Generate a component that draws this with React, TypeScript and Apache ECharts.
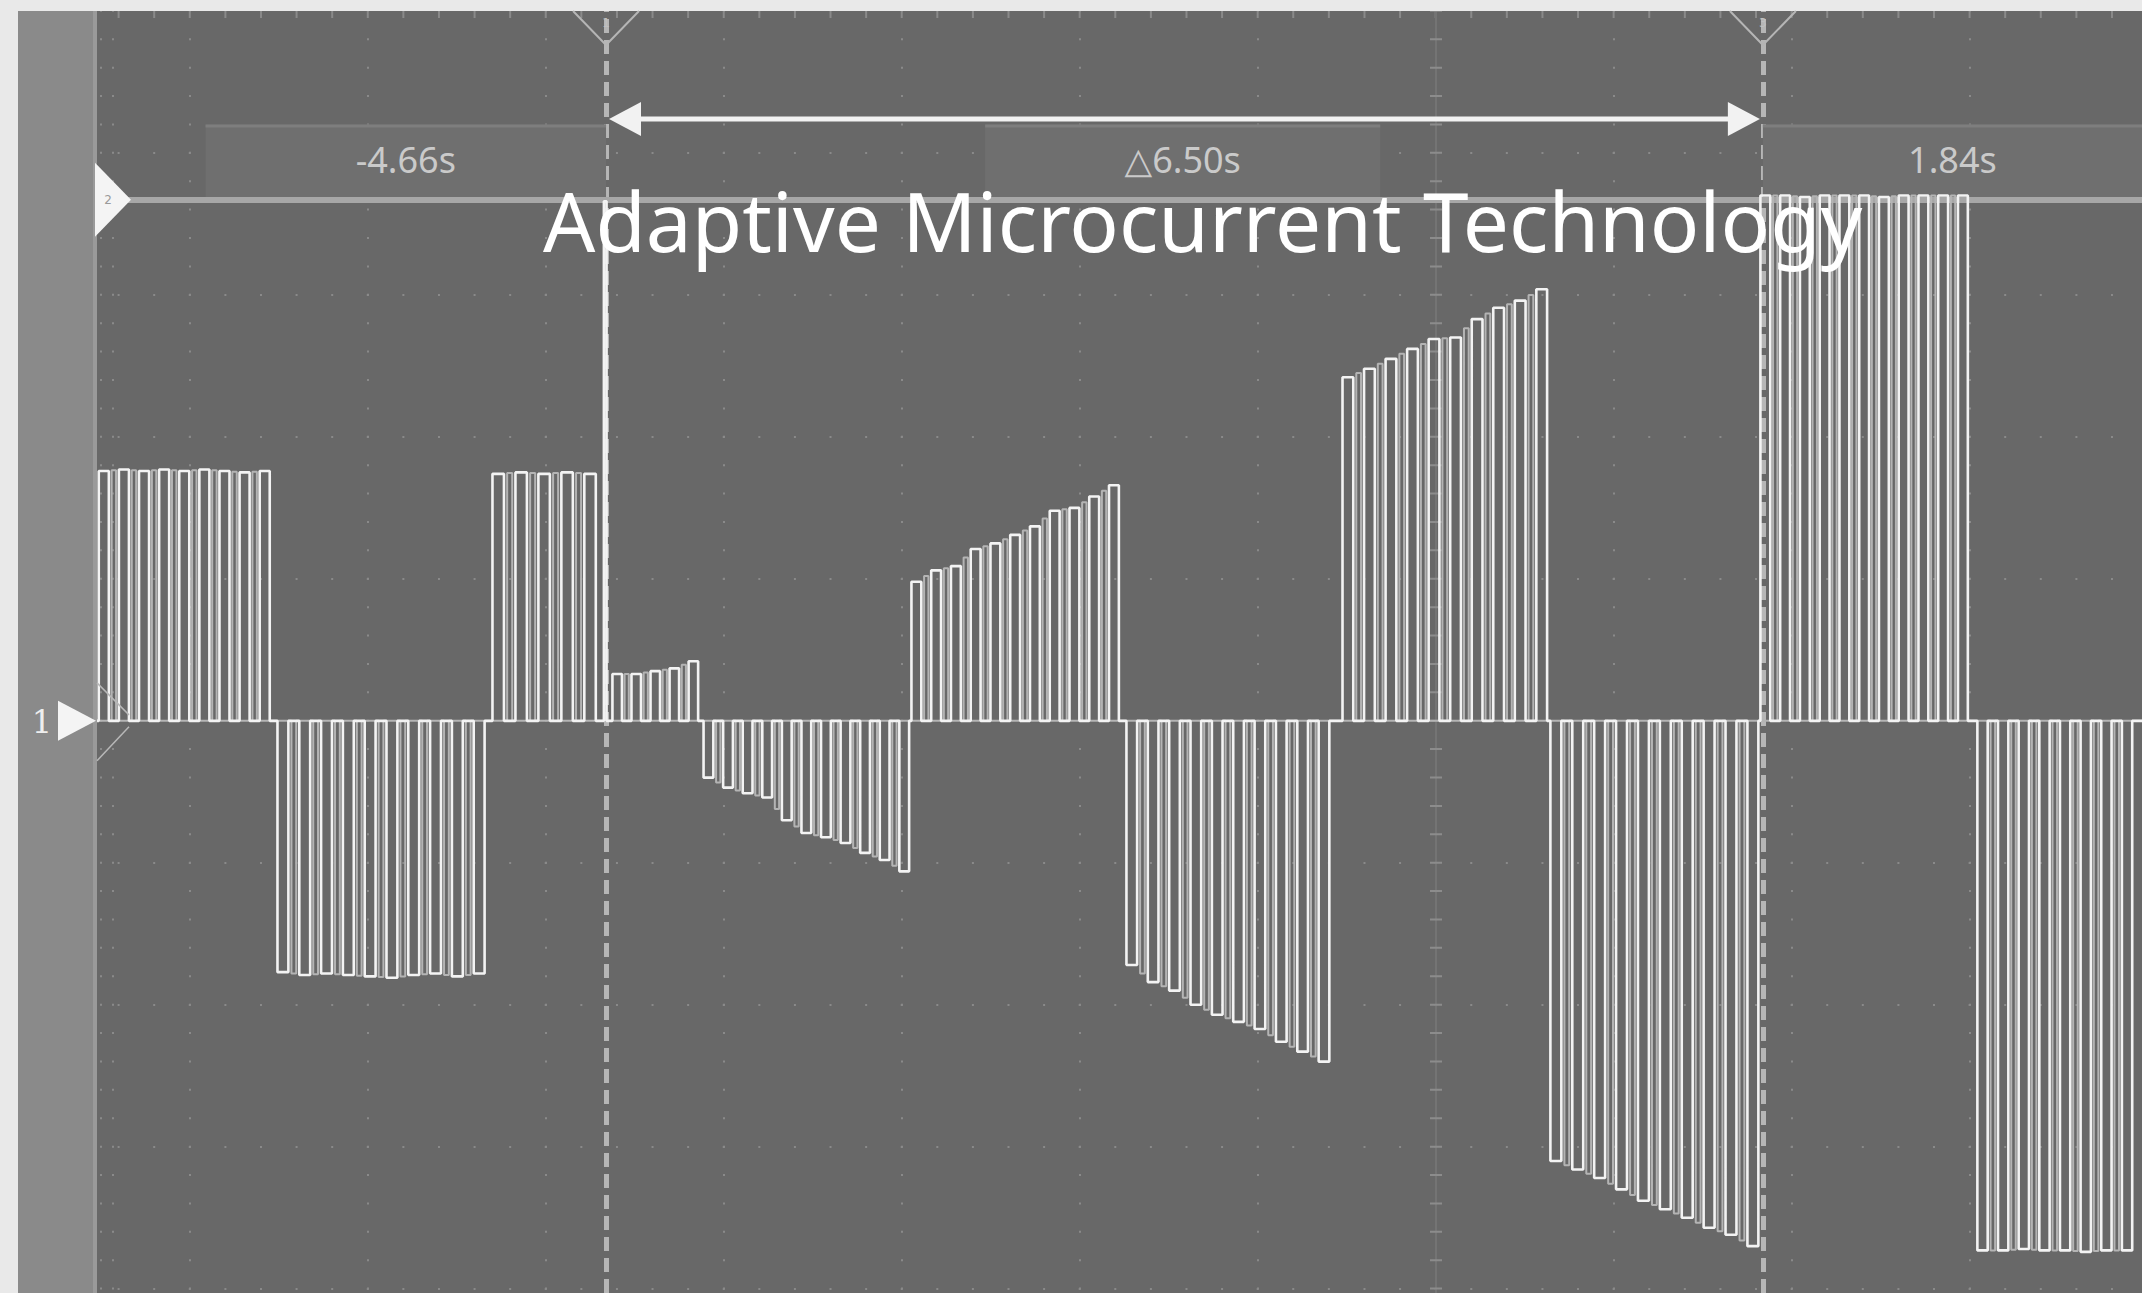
import React, { useEffect, useRef } from "react";
import * as echarts from "echarts";

// ---- axes (time in seconds, level in divisions) ----
const X_MIN = -7.52;
const X_MAX = 3.97;
const Y_MIN = -4.03;
const Y_MAX = 5;
const majorTimes = [-7, -6, -5, -4, -3, -2, -1, 1, 2, 3];
const centerTime = 0;
const majorLevels = [-4, -3, -2, -1, 1, 2, 3, 4];

// ---- cursors / readouts ----
const cursorTimes = [-4.66, 1.84];
const cursorNames = ["1", "3"];
const hCursorLevel = 3.67;
const readoutLabels = ["-4.66s", "\u25b36.50s", "1.84s"];
const readoutStarts = [-6.91, -2.53, 1.84];
const readoutEnds = [-4.66, -0.31, 3.97];
const readoutBand = [3.69, 4.2];
const arrowLevel = 4.24;
const titleText = "Adaptive Microcurrent Technology";

// ---- waveform bursts (pulse amplitudes, divisions) ----
const burst1 = [1.76, 1.77, 1.76, 1.77, 1.76, 1.77, 1.76, 1.75, 1.76];
const burst2 = [-1.77, -1.79, -1.78, -1.79, -1.8, -1.81, -1.79, -1.78, -1.8, -1.78];
const burst3 = [1.74, 1.75, 1.74, 1.75, 1.74];
const spike = [3.66];
const burst5 = [0.33, 0.33, 0.35, 0.37, 0.42];
const burst6 = [-0.4, -0.47, -0.51, -0.54, -0.7, -0.79, -0.82, -0.86, -0.93, -0.98, -1.06];
const burst7 = [0.98, 1.06, 1.09, 1.21, 1.25, 1.31, 1.37, 1.48, 1.5, 1.58, 1.66];
const burst8 = [-1.72, -1.84, -1.9, -2.0, -2.07, -2.12, -2.17, -2.26, -2.33, -2.4];
const burst9 = [2.42, 2.48, 2.55, 2.62, 2.69, 2.7, 2.83, 2.91, 2.96, 3.04];
const burst10 = [-3.1, -3.16, -3.22, -3.3, -3.38, -3.44, -3.5, -3.57, -3.62, -3.7];
const burst11 = [3.7, 3.7, 3.69, 3.7, 3.7, 3.7, 3.69, 3.7, 3.7, 3.7, 3.7];
const burst12 = [-3.73, -3.73, -3.72, -3.73, -3.73, -3.74, -3.73, -3.73];

const burstAmps = [burst1, burst2, burst3, spike, burst5, burst6, burst7, burst8, burst9, burst10, burst11, burst12];
const burstStarts = [-7.51, -6.506, -5.298, -4.672, -4.624, -4.112, -2.944, -1.736, -0.522, 0.646, 1.826, 3.045];
const burstPeriods = [0.113, 0.1225, 0.129, 0.03, 0.107, 0.11, 0.111, 0.12, 0.121, 0.123, 0.111, 0.116];
const DUTY = 0.5;
// persistence (display afterglow) lines sit inside the gaps between pulses
const GHOST_FROM = 0.64;
const GHOST_TO = 0.86;

function buildTrace() {
  const pts: number[][] = [[X_MIN, 0]];
  burstAmps.forEach((amps, b) => {
    amps.forEach((a, i) => {
      const t = burstStarts[b] + i * burstPeriods[b];
      const w = burstPeriods[b] * DUTY;
      pts.push([t, 0], [t, a], [t + w, a], [t + w, 0]);
    });
  });
  pts.push([X_MAX, 0]);
  return pts;
}

function buildGhost() {
  const pts: number[][] = [[X_MIN, 0]];
  burstAmps.forEach((amps, b) => {
    amps.forEach((a, i) => {
      if (i >= amps.length - 1) return;
      const p = burstPeriods[b];
      const t = burstStarts[b] + i * p;
      const a2 = (a + amps[i + 1]) / 2;
      pts.push([t + GHOST_FROM * p, 0], [t + GHOST_FROM * p, a2], [t + GHOST_TO * p, a2], [t + GHOST_TO * p, 0]);
    });
  });
  pts.push([X_MAX, 0]);
  return pts;
}

const GRID_LEFT = 97;
const GRID_TOP = 11;
const W = 2142;
const H = 1293;

// dash patterns for dotted grid (minor = 0.2 s / 0.2 div)
const PX_PER_S = (W - GRID_LEFT) / (X_MAX - X_MIN);
const PX_PER_DIV = (H - GRID_TOP) / (Y_MAX - Y_MIN);
const hPeriod = 0.2 * PX_PER_S;
const vPeriod = 0.2 * PX_PER_DIV;
const firstH = (Math.ceil(X_MIN / 0.2) * 0.2 - X_MIN) * PX_PER_S - 1;
const firstV = (Math.ceil(Y_MIN / 0.2) * 0.2 - Y_MIN) * PX_PER_DIV - 1;
const hDots = { type: [2, hPeriod - 2], dashOffset: hPeriod - firstH };
const vDots = { type: [2, vPeriod - 2], dashOffset: vPeriod - firstV };

const GRID_COLOR = "#8a8a8a";

function buildOption() {
  const gridLines: any[] = [];
  majorTimes.forEach((t) =>
    gridLines.push({ xAxis: t, lineStyle: { color: GRID_COLOR, width: 2, ...vDots } })
  );
  majorLevels.forEach((v) =>
    gridLines.push({ yAxis: v, lineStyle: { color: GRID_COLOR, width: 2, ...hDots } })
  );
  // top edge ticks
  gridLines.push({ yAxis: Y_MAX - 3.5 / PX_PER_DIV, lineStyle: { color: GRID_COLOR, width: 7, ...hDots } });
  // left edge dot columns
  gridLines.push({ xAxis: X_MIN + 4 / PX_PER_S, lineStyle: { color: GRID_COLOR, width: 2, ...vDots } });
  gridLines.push({ xAxis: X_MIN + 16 / PX_PER_S, lineStyle: { color: GRID_COLOR, width: 2, ...vDots } });
  // center line with ticks
  gridLines.push({ xAxis: centerTime, lineStyle: { color: "#747474", width: 2, type: "solid" } });
  gridLines.push({ xAxis: centerTime, lineStyle: { color: "#8c8c8c", width: 12, ...vDots } });

  const cursorLines: any[] = cursorTimes.map((t) => ({
    xAxis: t,
    lineStyle: { color: "#b6b6b6", width: 5, type: [14, 7] },
  }));
  cursorLines.push({ yAxis: hCursorLevel, lineStyle: { color: "#a7a7a7", width: 6, type: "solid" } });

  return {
    animation: false,
    backgroundColor: "#e9e9e9",
    grid: {
      left: GRID_LEFT,
      right: 0,
      top: GRID_TOP,
      bottom: 0,
      show: true,
      backgroundColor: "#686868",
      borderWidth: 0,
    },
    xAxis: { type: "value", min: X_MIN, max: X_MAX, show: false },
    yAxis: { type: "value", min: Y_MIN, max: Y_MAX, show: false },
    series: [
      {
        name: "grid",
        type: "line",
        z: 1,
        data: [],
        silent: true,
        markLine: {
          z: 1,
          silent: true,
          symbol: "none",
          label: { show: false },
          emphasis: { disabled: true },
          animation: false,
          data: gridLines,
        },
      },
      {
        name: "persistence",
        type: "line",
        z: 2,
        data: buildGhost(),
        showSymbol: false,
        symbol: "none",
        clip: true,
        silent: true,
        lineStyle: { color: "#b4b4b4", width: 2 },
      },
      {
        name: "trace",
        type: "line",
        z: 3,
        data: buildTrace(),
        showSymbol: false,
        symbol: "none",
        clip: true,
        silent: true,
        lineStyle: { color: "#f3f3f3", width: 2.6 },
      },
      {
        name: "cursors",
        type: "line",
        z: 4,
        data: [],
        silent: true,
        markLine: {
          z: 2,
          silent: true,
          symbol: "none",
          label: { show: false },
          emphasis: { disabled: true },
          animation: false,
          data: cursorLines,
        },
      },
    ],
  };
}

export default function App() {
  const ref = useRef<HTMLDivElement>(null);
  useEffect(() => {
    const chart = echarts.init(ref.current!, null, { renderer: "svg" });
    chart.setOption(buildOption() as any);
    const px = (t: number, a: number) => chart.convertToPixel({ gridIndex: 0 }, [t, a]) as number[];

    const graphics: any[] = [];
    // left strip
    graphics.push({ type: "rect", z: 1, shape: { x: 18, y: GRID_TOP, width: GRID_LEFT - 18, height: H - GRID_TOP }, style: { fill: "#8a8a8a" } });
    graphics.push({ type: "rect", z: 1, shape: { x: GRID_LEFT - 4, y: GRID_TOP, width: 4, height: H - GRID_TOP }, style: { fill: "#9a9a9a" } });

    // readout boxes
    const yTop = px(0, readoutBand[1])[1];
    const yBot = px(0, readoutBand[0])[1];
    readoutLabels.forEach((lab, i) => {
      const x1 = px(readoutStarts[i], 0)[0];
      const x2 = px(readoutEnds[i], 0)[0];
      graphics.push({ type: "rect", z: 2, shape: { x: x1, y: yTop, width: x2 - x1, height: yBot - yTop }, style: { fill: "#6f6f6f" } });
      graphics.push({ type: "rect", z: 2, shape: { x: x1, y: yTop, width: x2 - x1, height: 3 }, style: { fill: "#7e7e7e" } });
      graphics.push({
        type: "text",
        z: 3,
        x: (x1 + x2) / 2,
        y: (yTop + yBot) / 2 - 1,
        style: { text: lab, fill: "#cacaca", fontSize: 36, lineHeight: 34, fontFamily: "'Noto Sans', 'DejaVu Sans', sans-serif", align: "center", verticalAlign: "middle" },
      });
    });

    // delta arrow
    const ay = px(0, arrowLevel)[1];
    const ax1 = px(cursorTimes[0], 0)[0];
    const ax2 = px(cursorTimes[1], 0)[0];
    graphics.push({ type: "line", z: 6, shape: { x1: ax1 + 20, y1: ay, x2: ax2 - 20, y2: ay }, style: { stroke: "#f2f2f2", lineWidth: 5 } });
    graphics.push({ type: "polygon", z: 6, shape: { points: [[ax1 + 3, ay], [ax1 + 35, ay - 17], [ax1 + 35, ay + 17]] }, style: { fill: "#f2f2f2" } });
    graphics.push({ type: "polygon", z: 6, shape: { points: [[ax2 - 3, ay], [ax2 - 35, ay - 17], [ax2 - 35, ay + 17]] }, style: { fill: "#f2f2f2" } });

    // cursor V markers at the top
    cursorTimes.forEach((t, i) => {
      const x = px(t, 0)[0];
      graphics.push({ type: "polyline", z: 6, shape: { points: [[x - 33, GRID_TOP], [x, GRID_TOP + 34], [x + 33, GRID_TOP]] }, style: { stroke: "#b5b5b5", lineWidth: 2, fill: "none" } });
      graphics.push({ type: "text", z: 6, x: x, y: GRID_TOP + 12, style: { text: cursorNames[i], fill: "#c0c0c0", fontSize: 12, fontFamily: "'DejaVu Sans', sans-serif", align: "center", verticalAlign: "middle" } });
    });

    // horizontal cursor "2" marker
    const y2 = px(0, hCursorLevel)[1];
    graphics.push({ type: "polygon", z: 6, shape: { points: [[GRID_LEFT - 2, y2 - 37], [GRID_LEFT - 2, y2 + 37], [GRID_LEFT + 34, y2]] }, style: { fill: "#f4f4f4" } });
    graphics.push({ type: "text", z: 7, x: GRID_LEFT + 11, y: y2, style: { text: "2", fill: "#9a9a9a", fontSize: 12, fontFamily: "'DejaVu Sans', sans-serif", align: "center", verticalAlign: "middle" } });

    // channel 1 marker at zero level
    const y0 = px(0, 0)[1];
    graphics.push({ type: "polygon", z: 6, shape: { points: [[58, y0 - 20], [58, y0 + 20], [GRID_LEFT - 1, y0]] }, style: { fill: "#f4f4f4" } });
    graphics.push({ type: "text", z: 6, x: 42, y: y0 + 1, style: { text: "1", fill: "#eeeeee", fontSize: 32, fontFamily: "'DejaVu Serif', serif", align: "center", verticalAlign: "middle" } });
    graphics.push({ type: "polyline", z: 6, shape: { points: [[GRID_LEFT, y0 - 38], [GRID_LEFT + 32, y0 - 6]] }, style: { stroke: "#b8b8b8", lineWidth: 1.5, fill: "none" } });
    graphics.push({ type: "polyline", z: 6, shape: { points: [[GRID_LEFT + 32, y0 + 6], [GRID_LEFT, y0 + 40]] }, style: { stroke: "#b8b8b8", lineWidth: 1.5, fill: "none" } });

    // title
    graphics.push({
      type: "text",
      z: 10,
      x: 543,
      y: 220,
      style: { text: titleText, fill: "#ffffff", fontSize: 82, lineHeight: 60, fontFamily: "'Noto Sans', 'Open Sans', sans-serif", align: "left", verticalAlign: "middle" },
    });

    chart.setOption({ graphic: graphics });
    return () => chart.dispose();
  }, []);
  return <div ref={ref} style={{ position: "fixed", left: 0, top: 0, width: W, height: H }} />;
}
